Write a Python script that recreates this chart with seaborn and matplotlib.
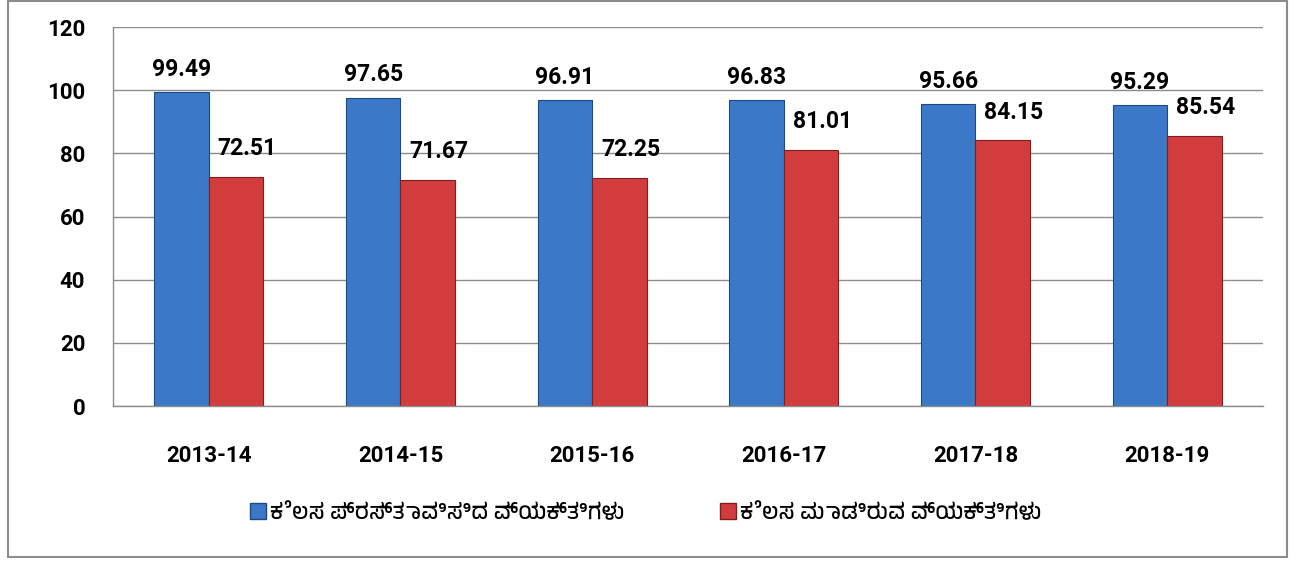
import matplotlib
matplotlib.use('Agg')
import pandas as pd
import seaborn as sns
import matplotlib.pyplot as plt
from matplotlib import font_manager
from matplotlib.patches import Rectangle

years = ['2013-14', '2014-15', '2015-16', '2016-17', '2017-18', '2018-19']
offered = [99.49, 97.65, 96.91, 96.83, 95.66, 95.29]
worked = [72.51, 71.67, 72.25, 81.01, 84.15, 85.54]
series_names = ['ಕೆಲಸ ಪ್ರಸ್ತಾವಿಸಿದ ವ್ಯಕ್ತಿಗಳು', 'ಕೆಲಸ ಮಾಡಿರುವ ವ್ಯಕ್ತಿಗಳು']
y_ticks = [0, 20, 40, 60, 80, 100, 120]


def kannada_family():
    names = sorted({f.name for f in font_manager.fontManager.ttflist})
    for n in names:
        if 'Kannada' in n or 'Tunga' in n:
            return n
    return None


def build_frame():
    rows = []
    for i, y in enumerate(years):
        rows.append({'Year': y, 'Series': series_names[0], 'Value': offered[i]})
        rows.append({'Year': y, 'Series': series_names[1], 'Value': worked[i]})
    return pd.DataFrame(rows)


def plot_bars(data):
    sns.set_style('white')
    plt.rcParams['font.family'] = ['Roboto', 'DejaVu Sans']
    plt.rcParams['text.color'] = 'black'
    plt.rcParams['xtick.labelcolor'] = 'black'
    plt.rcParams['ytick.labelcolor'] = 'black'
    fig = plt.figure(figsize=(12.96, 5.65), dpi=100)
    ax = fig.add_axes([0.0872, 0.2814, 0.8873, 0.6708])

    colors = ['#3B79C8', '#D23C3C']
    edges = ['#1F4A80', '#7E1E1E']
    sns.barplot(data=data, x='Year', y='Value', hue='Series', palette=colors,
                width=0.57, gap=0, ax=ax, legend=False, saturation=1)

    for cont, ec in zip(ax.containers, edges):
        for bar in cont:
            bar.set_edgecolor(ec)
            bar.set_linewidth(0.8)

    # value labels
    for bar in ax.containers[0]:
        ax.annotate(f'{bar.get_height():.2f}',
                    (bar.get_x() + bar.get_width() / 2, bar.get_height()),
                    xytext=(0, 8), textcoords='offset points',
                    ha='center', va='bottom', fontsize=16.5, fontweight='bold')
    for bar in ax.containers[1]:
        ax.annotate(f'{bar.get_height():.2f}',
                    (bar.get_x() + bar.get_width() / 2, bar.get_height()),
                    xytext=(8, 12), textcoords='offset points',
                    ha='center', va='bottom', fontsize=16.5, fontweight='bold')

    ax.set_ylim(0, 120)
    ax.set_xlim(-0.5, len(years) - 0.5)
    ax.set_yticks(y_ticks)
    ax.yaxis.grid(True, color='#8c8c8c', linewidth=1)
    ax.set_axisbelow(True)
    ax.set_xlabel('')
    ax.set_ylabel('')
    for s in ['top', 'right']:
        ax.spines[s].set_visible(False)
    for s in ['left', 'bottom']:
        ax.spines[s].set_color('#8c8c8c')
        ax.spines[s].set_linewidth(1)
    ax.tick_params(axis='y', length=6, color='#8c8c8c', labelsize=16, pad=14)
    ax.tick_params(axis='x', length=0, labelsize=16, pad=28)
    ax.set_xticks([i - 0.5 for i in range(len(years) + 1)], minor=True)
    ax.tick_params(axis='x', which='minor', length=6, color='#8c8c8c', direction='out')
    for lab in ax.get_xticklabels() + ax.get_yticklabels():
        lab.set_fontweight('bold')

    kfam = kannada_family()
    fams = [kfam, 'DejaVu Sans'] if kfam else ['DejaVu Sans']
    # two separate legend entries, placed like the original
    for i, xpos in enumerate([250 / 1296, 720 / 1296]):
        h = Rectangle((0, 0), 1, 1, facecolor=colors[i], edgecolor=edges[i])
        fig.legend([h], [series_names[i]], loc='center left', bbox_to_anchor=(xpos, 0.092),
                   frameon=False, handlelength=0.7, handleheight=0.7, borderpad=0,
                   borderaxespad=0, handletextpad=0.2,
                   prop={'family': fams, 'size': 16, 'weight': 'bold'})

    fig.patches.append(Rectangle((8 / 1296, 8 / 565), 1279 / 1296, 556 / 565,
                                 transform=fig.transFigure, fill=False,
                                 edgecolor='#8c8c8c', linewidth=1.5))
    fig.savefig('out.png', dpi=100)


if __name__ == '__main__':
    data = build_frame()
    plot_bars(data)
